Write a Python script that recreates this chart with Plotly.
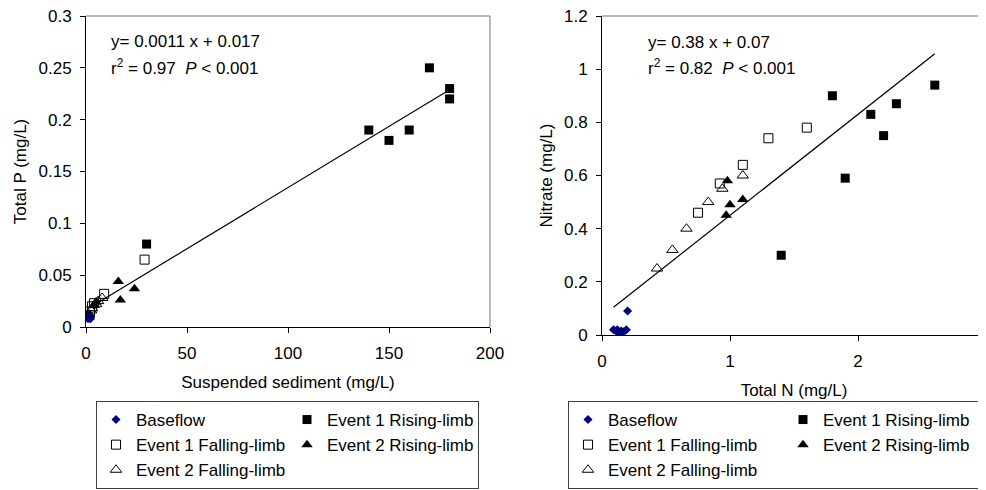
import plotly.graph_objects as go

# ---------------- data: left panel (Suspended sediment vs Total P) -------------
ss_base = [1.0, 1.5, 2.0, 1.2, 1.8, 2.2, 1.0, 1.5]
tp_base = [0.008, 0.010, 0.009, 0.012, 0.011, 0.008, 0.010, 0.012]
ss_e1r = [30, 140, 150, 160, 170, 180, 180]
tp_e1r = [0.080, 0.190, 0.180, 0.190, 0.250, 0.230, 0.220]
ss_e1f = [2, 3, 4, 9, 29]
tp_e1f = [0.015, 0.020, 0.023, 0.032, 0.065]
ss_e2r = [4, 5, 16, 17, 24]
tp_e2r = [0.021, 0.024, 0.044, 0.026, 0.037]
ss_e2f = [1.5, 2.5, 3, 5, 6, 8]
tp_e2f = [0.012, 0.016, 0.018, 0.022, 0.025, 0.028]
left_fit = [0.00118, 0.0165]      # slope, intercept of drawn trend line
left_fit_x = [2, 180]

# ---------------- data: right panel (Total N vs Nitrate) -----------------------
tn_base = [0.09, 0.11, 0.12, 0.13, 0.15, 0.17, 0.19, 0.20]
no3_base = [0.020, 0.015, 0.020, 0.010, 0.015, 0.012, 0.020, 0.090]
tn_e1r = [1.4, 1.8, 1.9, 2.1, 2.2, 2.3, 2.6]
no3_e1r = [0.30, 0.90, 0.59, 0.83, 0.75, 0.87, 0.94]
tn_e1f = [0.75, 0.92, 1.1, 1.3, 1.6]
no3_e1f = [0.46, 0.57, 0.64, 0.74, 0.78]
tn_e2r = [0.97, 0.98, 1.0, 1.1]
no3_e2r = [0.45, 0.58, 0.49, 0.51]
tn_e2f = [0.43, 0.55, 0.66, 0.83, 0.94, 1.1]
no3_e2f = [0.25, 0.32, 0.40, 0.50, 0.55, 0.60]
right_fit = [0.38, 0.07]
right_fit_x = [0.09, 2.6]

series_names = ["Baseflow", "Event 1 Rising-limb", "Event 1 Falling-limb",
                "Event 2 Rising-limb", "Event 2 Falling-limb"]
legend_columns = ["A", "B", "A", "B", "A"]   # column of each entry in the legend box

left_ticks_x = [0, 50, 100, 150, 200]
left_ticks_y = [0, 0.05, 0.1, 0.15, 0.2, 0.25, 0.3]
right_ticks_x = [0, 1, 2, 3]
right_ticks_y = [0, 0.2, 0.4, 0.6, 0.8, 1, 1.2]

FONT = "Arial, Liberation Sans, sans-serif"
FS = 17
W, H = 978, 482          # page adds an 8 px body margin -> fills the 986x490 window

def px(x):   # page pixel -> paper fraction (x)
    return (x - 8) / W

def py(y):   # page pixel -> paper fraction (y)
    return (H - (y - 8)) / H

styles = [
    dict(symbol="diamond", size=7, color="#000080", line=dict(width=0)),
    dict(symbol="square", size=9, color="black", line=dict(width=0)),
    dict(symbol="square-open", size=9, color="black", line=dict(width=1, color="black")),
    dict(symbol="triangle-up", size=10, color="black", line=dict(width=0)),
    dict(symbol="triangle-up-open", size=10, color="black", line=dict(width=1, color="black")),
]

fig = go.Figure()

left_sets = [(ss_base, tp_base), (ss_e1r, tp_e1r), (ss_e1f, tp_e1f),
             (ss_e2r, tp_e2r), (ss_e2f, tp_e2f)]
right_sets = [(tn_base, no3_base), (tn_e1r, no3_e1r), (tn_e1f, no3_e1f),
              (tn_e2r, no3_e2r), (tn_e2f, no3_e2f)]

fig.add_trace(go.Scatter(x=left_fit_x, y=[left_fit[0] * v + left_fit[1] for v in left_fit_x],
                         mode="lines", line=dict(color="black", width=1.2),
                         showlegend=False, hoverinfo="skip", xaxis="x", yaxis="y"))
fig.add_trace(go.Scatter(x=right_fit_x, y=[right_fit[0] * v + right_fit[1] for v in right_fit_x],
                         mode="lines", line=dict(color="black", width=1.2),
                         showlegend=False, hoverinfo="skip", xaxis="x2", yaxis="y2"))

for name, col, (xs, ys), st in zip(series_names, legend_columns, left_sets, styles):
    fig.add_trace(go.Scatter(x=xs, y=ys, mode="markers", name=name, marker=st,
                             xaxis="x", yaxis="y", legend="legend", legendgroup="L" + col))
for name, col, (xs, ys), st in zip(series_names, legend_columns, right_sets, styles):
    fig.add_trace(go.Scatter(x=xs, y=ys, mode="markers", name=name, marker=st,
                             xaxis="x2", yaxis="y2", legend="legend2", legendgroup="R" + col))

axis_common = dict(showgrid=False, zeroline=False, showline=True, linecolor="black",
                   linewidth=1, ticks="outside", ticklen=5, tickcolor="black",
                   ticklabeloverflow="allow",
                   tickfont=dict(family=FONT, size=FS, color="black"))

fig.update_layout(
    width=W, height=H,
    margin=dict(l=0, r=0, t=0, b=0, autoexpand=False),
    paper_bgcolor="white", plot_bgcolor="white",
    font=dict(family=FONT, size=FS, color="black"),
    xaxis=dict(domain=[px(86), px(490)], range=[0, 200], tickvals=left_ticks_x,
               ticklabelstandoff=6,
               title=dict(text="Suspended sediment (mg/L)", standoff=13,
                          font=dict(family=FONT, size=FS)), anchor="y", **axis_common),
    yaxis=dict(domain=[py(327), py(16)], range=[0, 0.3], tickvals=left_ticks_y,
               ticktext=[str(v) for v in left_ticks_y], ticklabelstandoff=5,
               title=dict(text="Total P (mg/L)", standoff=7,
                          font=dict(family=FONT, size=FS)), anchor="x", **axis_common),
    xaxis2=dict(domain=[px(602), 1.0], range=[0, 3], tickvals=right_ticks_x,
                ticklabelstandoff=6,
                title=dict(text="Total N (mg/L)", standoff=13,
                           font=dict(family=FONT, size=FS)), anchor="y2", **axis_common),
    yaxis2=dict(domain=[py(335), py(16)], range=[0, 1.2], tickvals=right_ticks_y,
                ticktext=[str(v) for v in right_ticks_y], ticklabelstandoff=5,
                title=dict(text="Nitrate (mg/L)", standoff=7,
                           font=dict(family=FONT, size=FS)), anchor="x2", **axis_common),
    legend=dict(x=px(96), y=py(401), xanchor="left", yanchor="top",
                orientation="h", entrywidth=146, tracegroupgap=0, bgcolor="white",
                bordercolor="#404040", borderwidth=1,
                font=dict(family=FONT, size=FS, color="black")),
    legend2=dict(x=px(568), y=py(401), xanchor="left", yanchor="top",
                 orientation="h", entrywidth=170, tracegroupgap=0, bgcolor="white",
                 bordercolor="#404040", borderwidth=1,
                 font=dict(family=FONT, size=FS, color="black")),
    showlegend=True,
)

for xr, yr in [("x domain", "y domain"), ("x2 domain", "y2 domain")]:
    fig.add_shape(type="line", xref=xr, yref=yr, x0=0, x1=1, y0=1, y1=1,
                  line=dict(color="#a0a0a0", width=1.5), layer="below")
    fig.add_shape(type="line", xref=xr, yref=yr, x0=1, x1=1, y0=0, y1=1,
                  line=dict(color="#a0a0a0", width=1.5), layer="below")

def note(x, y, text):
    fig.add_annotation(xref="paper", yref="paper", x=px(x), y=py(y),
                       xanchor="left", yanchor="middle", showarrow=False, align="left",
                       text=text, font=dict(family=FONT, size=FS))

note(109, 42, "y= 0.0011 x + 0.017")
note(109, 67, "r<sup>2</sup> = 0.97\u00a0\u00a0<i>P</i> < 0.001")
note(646, 43, "y= 0.38 x + 0.07")
note(646, 67, "r<sup>2</sup> = 0.82\u00a0\u00a0<i>P</i> < 0.001")

fig.write_html("out.html")
